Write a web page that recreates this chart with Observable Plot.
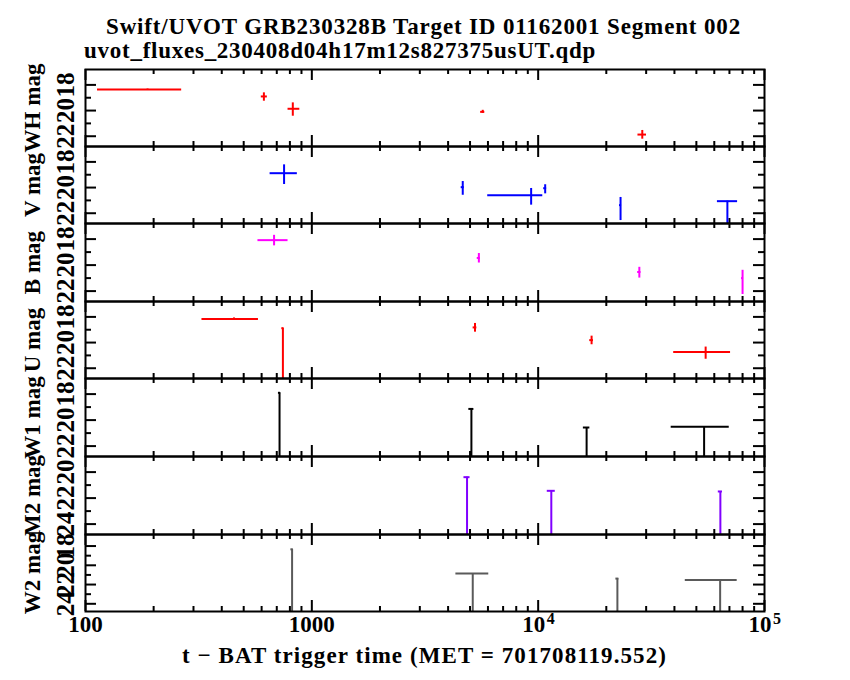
<!DOCTYPE html>
<html><head><meta charset="utf-8">
<script src="https://cdn.jsdelivr.net/npm/d3@7"></script>
<script src="https://cdn.jsdelivr.net/npm/@observablehq/plot@0.6"></script>
<style>
body{margin:0;background:#fff;}
#wrap{position:relative;width:850px;height:680px;overflow:hidden;background:#fff;}
.t{position:absolute;white-space:nowrap;font-family:"Liberation Serif";font-weight:bold;font-size:23px;line-height:23px;color:#000;}
.p{position:absolute;left:0;}
</style></head><body><div id="wrap">
<div class="t" id="title">Swift/UVOT GRB230328B Target ID 01162001 Segment 002</div>
<div class="t" id="sub">uvot_fluxes_230408d04h17m12s827375usUT.qdp</div>
<div class="t" id="xtitle">t − BAT trigger time (MET = 701708119.552)</div>
</div>
<script>
// ---- axis ticks ----
const xMajor = [100, 1000, 10000, 100000];
const xMajorPlain = [100, 1000];
const xMajorPow = [10000, 100000];
const xPowBase = ["10", "10"];
const xPowExp = ["4", "5"];
const xMinor = [200,300,400,500,600,700,800,900,2000,3000,4000,5000,6000,7000,8000,9000,20000,30000,40000,50000,60000,70000,80000,90000];
const yMajorStd = [18, 20, 22], yMinorStd = [19, 21];
const yMajorM2 = [20, 22, 24], yMinorM2 = [21, 23];
const yMajorW2 = [18, 20, 22, 24], yMinorW2 = [19, 21, 23];
const domStd = [16.8, 22.8], domM2 = [18.8, 24.8], domW2 = [16.8, 24.8];

// ---- WH (detections) ----
const whT     = [188, 614, 824, 5690, 28840];
const whTlo   = [113, 598, 785, 5570, 27600];
const whThi   = [266, 636, 885, 5810, 30100];
const whMag   = [18.36, 18.90, 19.86, 20.10, 21.87];
const whMagLo = [18.32, 18.62, 19.40, 19.98, 21.55];
const whMagHi = [18.40, 19.27, 20.44, 20.22, 22.23];

// ---- V ----
const vT     = [754, 4643, 9310, 10740, 23120];
const vTlo   = [654, 4570, 5986, 10580, 22880];
const vThi   = [863, 4715, 10480, 10900, 23360];
const vMag   = [18.88, 19.97, 20.60, 20.05, 21.37];
const vMagLo = [18.23, 19.53, 20.07, 19.78, 20.77];
const vMagHi = [19.76, 20.60, 21.37, 20.49, 22.57];
const vUlT = [68550], vUlTlo = [61940], vUlThi = [76050], vUlMag = [21.06];

// ---- B ----
const bT     = [681, 5470, 27990, 80000];
const bTlo   = [578, 5380, 27520, 79200];
const bThi   = [785, 5560, 28470, 80800];
const bMag   = [18.08, 19.45, 20.53, 21.00];
const bMagLo = [17.71, 19.11, 20.17, 20.40];
const bMagHi = [18.52, 19.84, 21.00, 22.26];

// ---- U ----
const uT     = [453, 5260, 17220, 54950];
const uTlo   = [327, 5160, 16900, 39700];
const uThi   = [581, 5360, 17550, 70800];
const uMag   = [18.16, 18.82, 19.81, 20.74];
const uMagLo = [18.08, 18.51, 19.50, 20.35];
const uMagHi = [18.24, 19.19, 20.17, 21.30];
const uUlT = [745], uUlTlo = [737], uUlThi = [753], uUlMag = [18.88];

// ---- W1 (upper limits) ----
const w1UlT   = [720, 5070, 16370, 54100];
const w1UlTlo = [712, 4940, 15840, 38700];
const w1UlThi = [728, 5200, 16920, 69860];
const w1UlMag = [17.90, 19.14, 20.57, 20.52];

// ---- M2 (upper limits) ----
const m2UlT   = [4850, 11430, 63830];
const m2UlTlo = [4700, 10970, 62500];
const m2UlThi = [5000, 11900, 65200];
const m2UlMag = [20.39, 21.44, 21.49];

// ---- W2 (upper limits) ----
const w2UlT   = [818, 5140, 22390, 63680];
const w2UlTlo = [808, 4330, 22050, 44670];
const w2UlThi = [828, 6050, 22730, 75740];
const w2UlMag = [18.34, 20.86, 21.38, 21.52];

const panelTops = [69, 146, 223, 301, 378, 456, 534, 611];

function rows(t, lo, hi, m, mlo, mhi) {
  return t.map((v, i) => ({t: v, lo: lo[i], hi: hi[i], m: m[i], mlo: mlo ? mlo[i] : null, mhi: mhi ? mhi[i] : null}));
}

const panels = [
  {name: "WH mag", color: "#ff0000", dom: domStd, maj: yMajorStd, min: yMinorStd,
   meas: rows(whT, whTlo, whThi, whMag, whMagLo, whMagHi), ul: []},
  {name: "V mag", color: "#0000ff", dom: domStd, maj: yMajorStd, min: yMinorStd,
   meas: rows(vT, vTlo, vThi, vMag, vMagLo, vMagHi), ul: rows(vUlT, vUlTlo, vUlThi, vUlMag)},
  {name: "B mag", color: "#ff00ff", dom: domStd, maj: yMajorStd, min: yMinorStd,
   meas: rows(bT, bTlo, bThi, bMag, bMagLo, bMagHi), ul: []},
  {name: "U mag", color: "#ff0000", dom: domStd, maj: yMajorStd, min: yMinorStd,
   meas: rows(uT, uTlo, uThi, uMag, uMagLo, uMagHi), ul: rows(uUlT, uUlTlo, uUlThi, uUlMag)},
  {name: "W1 mag", color: "#000000", dom: domStd, maj: yMajorStd, min: yMinorStd,
   meas: [], ul: rows(w1UlT, w1UlTlo, w1UlThi, w1UlMag)},
  {name: "M2 mag", color: "#8000ff", dom: domM2, maj: yMajorM2, min: yMinorM2,
   meas: [], ul: rows(m2UlT, m2UlTlo, m2UlThi, m2UlMag)},
  {name: "W2 mag", color: "#5a5a5a", dom: domW2, maj: yMajorW2, min: yMinorW2,
   meas: [], ul: rows(w2UlT, w2UlTlo, w2UlThi, w2UlMag)}
];

const wrap = document.getElementById("wrap");
const ML = 85, MR = 86, W = 850, IW = W - ML - MR;
const txt = {fontSize: 23, fontWeight: "bold", fill: "black"};

panels.forEach((p, k) => {
  const top = panelTops[k];
  const h = panelTops[k + 1] - top;
  const last = k === panels.length - 1;
  const mb = last ? 40 : 0;
  const bottomVal = p.dom[1];
  const marks = [
    Plot.tickX(xMajor, {x: d => d, insetBottom: h - 11, strokeWidth: 2}),
    Plot.tickX(xMajor, {x: d => d, insetTop: h - 11, strokeWidth: 2}),
    Plot.tickX(xMinor, {x: d => d, insetBottom: h - 5, strokeWidth: 2}),
    Plot.tickX(xMinor, {x: d => d, insetTop: h - 5, strokeWidth: 2}),
    Plot.tickY(p.maj, {y: d => d, insetRight: IW - 11, strokeWidth: 2}),
    Plot.tickY(p.maj, {y: d => d, insetLeft: IW - 11, strokeWidth: 2}),
    Plot.tickY(p.min, {y: d => d, insetRight: IW - 6, strokeWidth: 2}),
    Plot.tickY(p.min, {y: d => d, insetLeft: IW - 6, strokeWidth: 2}),
    // detections: x and y error bars
    Plot.ruleY(p.meas, {y: "m", x1: "lo", x2: "hi", stroke: p.color, strokeWidth: 2, clip: true}),
    Plot.ruleX(p.meas, {x: "t", y1: "mlo", y2: "mhi", stroke: p.color, strokeWidth: 2, clip: true}),
    // upper limits: bar at the limit, line down to the faint end
    Plot.ruleY(p.ul, {y: "m", x1: "lo", x2: "hi", stroke: p.color, strokeWidth: 2, clip: true}),
    Plot.ruleX(p.ul, {x: "t", y1: "m", y2: () => bottomVal, stroke: p.color, strokeWidth: 2, clip: true}),
    Plot.frame({strokeWidth: 2}),
    Plot.text(p.maj, {y: d => d, text: d => String(d), frameAnchor: "left", dx: -20, rotate: -90, textAnchor: "middle", ...txt, fontSize: 25}),
    Plot.text([p.name], {text: d => d, frameAnchor: "left", dx: -53, rotate: -90, textAnchor: "middle", ...txt})
  ];
  if (last) {
    marks.push(Plot.text(xMajorPlain, {x: d => d, text: d => String(d), frameAnchor: "bottom", dy: 20, ...txt}));
    marks.push(Plot.text(xMajorPow, {x: d => d, text: (d, i) => xPowBase[i], frameAnchor: "bottom", dy: 20, dx: -4.5, ...txt}));
    marks.push(Plot.text(xMajorPow, {x: d => d, text: (d, i) => xPowExp[i], frameAnchor: "bottom", dy: 12, dx: 12.5, fontSize: 16, fontWeight: "bold"}));
  }
  const svg = Plot.plot({
    width: W, height: h + mb,
    marginLeft: ML, marginRight: MR, marginTop: 0, marginBottom: mb,
    x: {type: "log", domain: [100, 100000], axis: null},
    y: {domain: p.dom, reverse: true, axis: null},
    style: {background: "transparent", overflow: "visible", fontFamily: "Liberation Serif"},
    marks
  });
  svg.classList.add("p");
  svg.style.top = top + "px";
  svg.style.position = "absolute";
  wrap.appendChild(svg);
});

function fit(id, left, right, top) {
  const el = document.getElementById(id);
  el.style.left = left + "px";
  el.style.top = top + "px";
  const n = el.textContent.length;
  const w0 = el.getBoundingClientRect().width;
  el.style.letterSpacing = ((right - left - w0) / n) + "px";
}
fit("title", 106, 741, 15);
fit("sub", 84, 596, 39);
fit("xtitle", 182, 667, 644);
</script>
</body></html>
